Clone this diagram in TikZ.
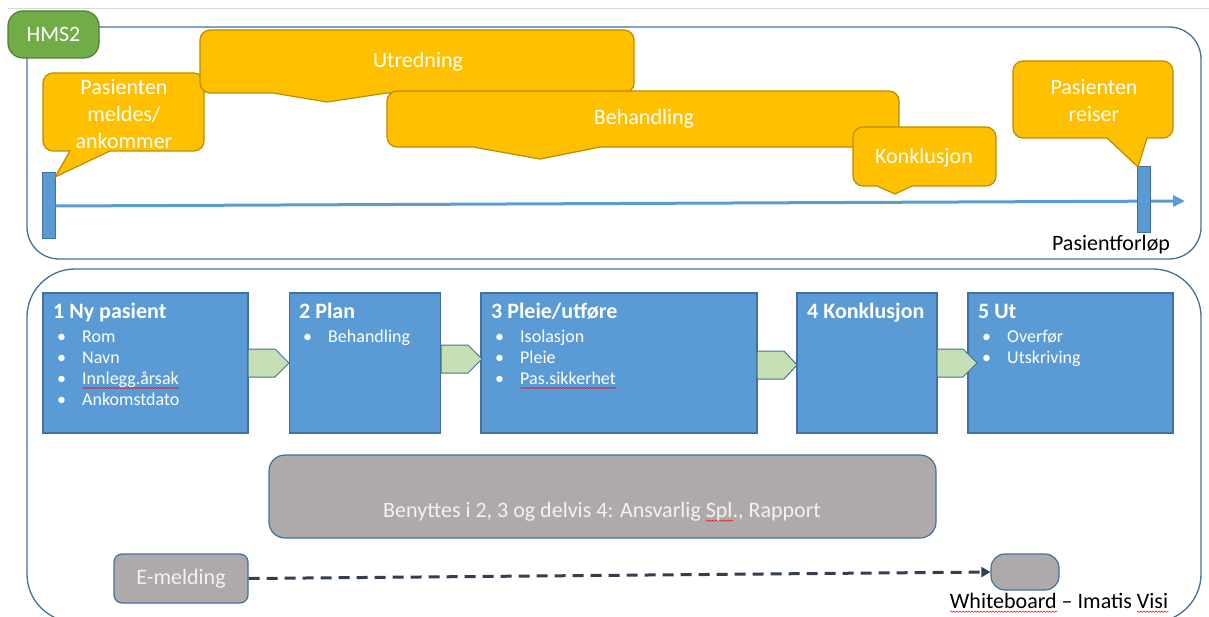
\documentclass[tikz,border=0pt]{standalone}
\usepackage{fontspec}
\setmainfont{Carlito}
\usetikzlibrary{arrows.meta,decorations.pathmorphing}

\definecolor{callgold}{HTML}{FFC000}
\definecolor{calledge}{HTML}{BC8C00}
\definecolor{stepblue}{HTML}{5B9BD5}
\definecolor{stepedge}{HTML}{41719C}
\definecolor{framecol}{HTML}{41719C}
\definecolor{arrowgreen}{HTML}{C5E0B4}
\definecolor{hmsgreen}{HTML}{70AD47}
\definecolor{hmsedge}{HTML}{507E32}
\definecolor{panelgray}{HTML}{AEAAAA}
\definecolor{dashcol}{HTML}{333F50}
\definecolor{rulegray}{HTML}{D9D9D9}
\definecolor{textgray}{HTML}{F2F2F2}

% red wavy underline (spell-check marks)
\newsavebox\wavebox
\newcommand\redwave[1]{\sbox\wavebox{#1}\rlap{\tikz[baseline=0pt]\draw[red,line width=0.5pt,
  decorate,decoration={snake,amplitude=0.7pt,segment length=3pt}]
  (0pt,-3pt) -- (\wd\wavebox,-3pt);}\usebox\wavebox}

% bullet list helpers for the step boxes
\newcommand\bul{\hspace*{4pt}\makebox[25pt][l]{\textbullet}}
\newcommand\steptext[2]{\parbox[t]{190pt}{\raggedright
  \fontsize{22}{24}\selectfont\bfseries #1\par\vspace{3pt}
  \fontsize{18}{21}\selectfont\mdseries #2}}

% speech-bubble callout: x1,y1,x2,y2, pointer base left/right, tip x,y
\newcommand\crad{10}
\newcommand\calloutpath[8]{%
  \draw[callfill] ({#1+\crad},#2) -- ({#3-\crad},#2)
    arc[start angle=270,end angle=360,radius=\crad] -- (#3,{#4-\crad})
    arc[start angle=0,end angle=90,radius=\crad] -- (#6,#4) -- (#7,#8) -- (#5,#4)
    -- ({#1+\crad},#4) arc[start angle=90,end angle=180,radius=\crad]
    -- (#1,{#2+\crad}) arc[start angle=180,end angle=270,radius=\crad] -- cycle;}

% pentagon step arrow: left x, head start x, tip x, top y, bottom y
\newcommand\homeplate[5]{%
  \draw[flowarrow] (#1,#4) -- (#2,#4) -- (#3,{(#4+#5)/2}) -- (#2,#5) -- (#1,#5) -- cycle;}

\tikzset{
  callfill/.style={fill=callgold, draw=calledge, line width=1.2pt},
  calltext/.style={text=white, font=\fontsize{22}{27}\selectfont, align=center, inner sep=0pt},
  frame/.style={draw=framecol, line width=1.3pt, rounded corners=#1},
  stepbox/.style={rectangle, fill=stepblue, draw=stepedge, line width=1.2pt, inner sep=0pt},
  steplabel/.style={text=white, inner sep=0pt, anchor=base west},
  flowarrow/.style={fill=arrowgreen, draw=stepedge, line width=1pt, line join=miter},
  bar/.style={rectangle, fill=stepblue, draw=stepedge, line width=1pt,
    minimum width=13pt, minimum height=66pt, inner sep=0pt},
  grayblock/.style={rectangle, fill=panelgray, draw=stepedge, line width=1.2pt, inner sep=0pt},
  plain/.style={inner sep=0pt, font=\fontsize{22}{26}\selectfont},
  timeline/.style={draw=stepblue, line width=3pt, -{Triangle[length=12pt,width=11pt]}},
  dashflow/.style={draw=dashcol, line width=3pt, dash pattern=on 11pt off 7pt,
    -{Triangle[length=9pt,width=10pt]}},
}

\begin{document}
\begin{tikzpicture}[x=1pt,y=-1pt]
\useasboundingbox (0,0) rectangle (1209,617);
\fill[white] (0,0) rectangle (1209,617);

% thin rule along the top
\draw[rulegray, line width=1pt] (8,9) -- (1209,9);

% ---------- upper panel: patient timeline ----------
\draw[frame=32pt] (27,27) rectangle (1201,259);
\node[rectangle, rounded corners=15pt, fill=hmsgreen, draw=hmsedge, line width=1.2pt,
      minimum width=91pt, minimum height=47pt, inner sep=0pt, text=white,
      font=\fontsize{22}{26}\selectfont] (hms) at (53.5,34.5) {HMS2};

\node[bar] (bar1) at (48.5,206) {};
\coordinate (tlend) at (1185,201);
\draw[timeline] (bar1.east) -- (tlend);
\node[bar] (bar2) at (1143.5,200) {};

\calloutpath{43}{73}{204}{151}{70}{110}{55}{177}
\node[calltext] (c1) at (124,114) {Pasienten\\meldes/\\ankommer};

\calloutpath{200}{30}{634}{93}{273}{387}{327}{102}
\node[calltext] (c2) at (418,62) {Utredning};

\calloutpath{387}{91}{899}{147}{473}{600}{540}{159}
\node[calltext] (c3) at (644,119) {Behandling};

\calloutpath{853}{127}{996}{186}{877}{912}{895}{194}
\node[calltext] (c4) at (924,158) {Konklusjon};

\calloutpath{1013}{61}{1173}{138}{1107}{1147}{1138}{167}
\node[calltext] (c5) at (1094,100.5) {Pasienten\\reiser};

\node[plain, text=black] (forlop) at (1111,245) {Pasientforløp};

% ---------- lower panel: process steps ----------
\draw[frame=48pt] (27,269) rectangle (1201,622);

\node[stepbox, minimum width=205pt, minimum height=140pt] (s1) at (145.5,363) {};
\node[stepbox, minimum width=151pt, minimum height=140pt] (s2) at (365,363) {};
\node[stepbox, minimum width=276pt, minimum height=140pt] (s3) at (619,363) {};
\node[stepbox, minimum width=140pt, minimum height=140pt] (s4) at (867,363) {};
\node[stepbox, minimum width=205pt, minimum height=140pt] (s5) at (1070.5,363) {};

\node[steplabel] (t1) at (53,319) {\steptext{1 Ny pasient}{\bul Rom\par\bul Navn\par\bul \redwave{Innlegg.årsak}\par\bul Ankomstdato}};
\node[steplabel] (t2) at (299,319) {\steptext{2 Plan}{\bul Behandling}};
\node[steplabel] (t3) at (491,319) {\steptext{3 Pleie/utføre}{\bul Isolasjon\par\bul Pleie\par\bul \redwave{Pas.sikkerhet}}};
\node[steplabel] (t4) at (807,319) {\steptext{4 Konklusjon}{}};
\node[steplabel] (t5) at (978,319) {\steptext{5 Ut}{\bul Overfør\par\bul Utskriving}};

% arrows between the steps
\homeplate{248}{275}{289}{349}{377}
\homeplate{441}{468}{482}{345}{373}
\homeplate{757}{784}{797}{351}{379}
\homeplate{937}{963}{977}{349}{377}

\node[grayblock, rounded corners=16pt, minimum width=667pt, minimum height=83pt] (shared) at (602.5,496.5) {};
\node[plain, text=textgray] (sharedtxt) at (602,512) {Benyttes i 2, 3 og delvis 4: Ansvarlig \redwave{Spl}., Rapport};

\node[grayblock, rounded corners=8pt, minimum width=134pt, minimum height=49pt,
      text=textgray, font=\fontsize{22}{26}\selectfont] (em) at (181,578.5) {E-melding};
\node[grayblock, rounded corners=14pt, minimum width=68pt, minimum height=36pt] (wb) at (1025,572) {};
\draw[dashflow] (em.east) -- (wb.west);
\node[plain, text=black] (wbtxt) at (1059,603) {\redwave{Whiteboard} – Imatis \redwave{Visi}};
\end{tikzpicture}
\end{document}
